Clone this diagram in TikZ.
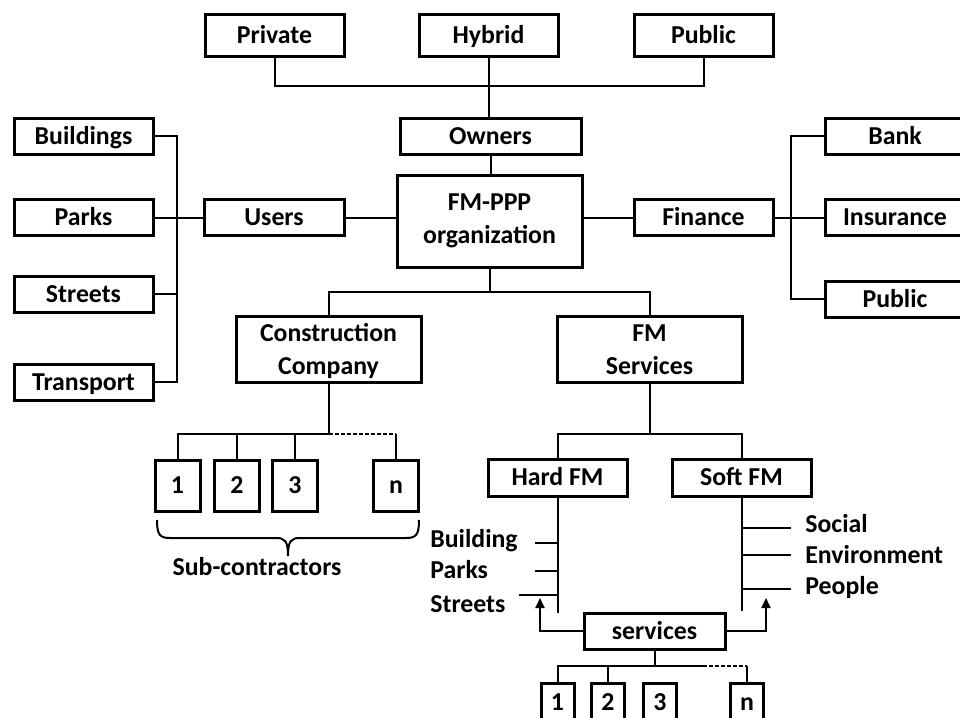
\documentclass[tikz,border=0pt]{standalone}
\usepackage{fontspec}
\setmainfont{Carlito}
\usetikzlibrary{arrows.meta}
\begin{document}
\begin{tikzpicture}[x=0.5pt,y=-0.5pt,
  txt/.style={font=\fontsize{12.9}{16.3}\selectfont\bfseries},
  capcentre/.style={text height=10.3pt, text depth=2pt},
  box/.style={txt, capcentre, draw, line width=1.5pt, inner sep=0pt},
  twoline/.style={txt, draw, line width=1.5pt, inner sep=0pt, align=center},
  lowered/.style={text depth=0pt},
  wh/.style 2 args={minimum width=#1*0.5pt, minimum height=#2*0.5pt},
  lbl/.style={txt, capcentre, inner sep=0pt},
  link/.style={line width=1pt},
  dash link/.style={line width=1pt, dash pattern=on 2pt off 1pt},
  up arrow/.style={line width=1pt, -{Triangle[length=5pt,width=4.5pt]}}
]
\useasboundingbox (0,0) rectangle (960,718);

% ---- owners ----
\node[box, wh={139}{42}] (private) at (274.5,35) {Private};
\node[box, wh={139}{42}] (hybrid)  at (488.5,35) {Hybrid};
\node[box, wh={139}{42}] (pubown)  at (703.5,35) {Public};
\node[box, wh={181}{36}] (owners)  at (490.5,136) {Owners};
\node[twoline, wh={185}{92}] (fmppp) at (489.5,221) {FM-PPP\\organization};

\coordinate (obus) at (489,86);
\draw[link] (private.south) |- (obus) -| (pubown.south);
\draw[link] (hybrid.south) -- (hybrid.south |- owners.north);
\draw[link] (owners.south) -- (owners.south |- fmppp.north);

% ---- users ----
\node[box, wh={139}{36}] (buildings) at (83.5,136) {Buildings};
\node[box, wh={139}{36}] (parks)     at (83.5,217.5) {Parks};
\node[box, wh={139}{36}] (streets)   at (83.5,294) {Streets};
\node[box, wh={139}{36}] (transport) at (83.5,382) {Transport};
\node[box, wh={140}{36}] (users)     at (274,217.5) {Users};

\coordinate (ubus) at (177,217.5);
\draw[link] (buildings.east) -| (ubus) |- (transport.east);
\draw[link] (parks.east) -- (users.west);
\draw[link] (streets.east) -- (streets.east -| ubus);
\draw[link] (users.east) -- (users.east -| fmppp.west);

% ---- finance ----
\node[box, wh={139}{36}] (finance)   at (703.5,217.5) {Finance};
\node[box, wh={140}{36}] (bank)      at (895,136) {Bank};
\node[box, wh={140}{36}] (insurance) at (895,217.5) {Insurance};
\node[box, wh={140}{36}] (pubfin)    at (895,299) {Public};

\coordinate (fbus) at (791,217.5);
\draw[link] (bank.west) -| (fbus) |- (pubfin.west);
\draw[link] (finance.east) -- (insurance.west);
\draw[link] (fmppp.east |- finance.west) -- (finance.west);

% ---- construction and FM services ----
\node[twoline, lowered, wh={185}{66}] (constr) at (328.5,349) {Construction\\Company};
\node[twoline, lowered, wh={185}{66}] (fmserv) at (649.5,349.5) {FM\\Services};

\coordinate (cbus) at (489.5,292);
\draw[link] (fmppp.south) -- (cbus);
\draw[link] (constr.north) |- (cbus) -| (fmserv.north);

% ---- sub-contractors ----
\node[box, wh={45}{51}] (s1) at (177.5,485.5) {1};
\node[box, wh={45}{51}] (s2) at (237,485.5) {2};
\node[box, wh={45}{51}] (s3) at (295,485.5) {3};
\node[box, wh={45}{51}] (sn) at (396,485.5) {n};

\coordinate (sbus) at (328.5,434);
\draw[link] (constr.south) -- (sbus);
\draw[link] (sbus) -| (s1.north);
\draw[link] (s2.north) -- (s2.north |- sbus);
\draw[link] (s3.north) -- (s3.north |- sbus);
\draw[dash link] (sbus) -- (sbus -| sn.north);
\draw[link] (sbus -| sn.north) -- (sn.north);

% brace under the sub-contractor boxes
\draw[link] (157,520) .. controls (157,535) and (160,538) .. (170,538)
  -- (276,538) .. controls (285,538) and (288,541) .. (288,556)
  .. controls (288,541) and (291,538) .. (300,538)
  -- (406,538) .. controls (416,538) and (419,535) .. (419,520);
\node[lbl] (subl) at (257,567.5) {Sub-contractors};

% ---- hard and soft FM ----
\node[box, wh={139}{37}] (hard) at (557.5,477.5) {Hard FM};
\node[box, wh={139}{37}] (soft) at (741.5,477.5) {Soft FM};

\coordinate (fbus2) at (649.5,434);
\draw[link] (fmserv.south) -- (fbus2);
\draw[link] (hard.north) |- (fbus2) -| (soft.north);

\coordinate (hend) at (557.5,613);
\coordinate (send) at (741.5,611);
\draw[link] (hard.south) -- (hend);
\draw[link] (soft.south) -- (send);

\node[lbl, anchor=west] (lbuild)   at (430,539.5) {Building};
\node[lbl, anchor=west] (lparks)   at (430,570.5) {Parks};
\node[lbl, anchor=west] (lstreets) at (430,604) {Streets};
\coordinate (tb) at (535,543);
\coordinate (tp) at (535,571);
\coordinate (ts) at (519,595);
\draw[link] (tb) -- (tb -| hend);
\draw[link] (tp) -- (tp -| hend);
\draw[link] (ts) -- (ts -| hend);

\node[lbl, anchor=west] (lsocial) at (805,524) {Social};
\node[lbl, anchor=west] (lenv)    at (805,555) {Environment};
\node[lbl, anchor=west] (lpeople) at (805,586) {People};
\coordinate (tso) at (791,528);
\coordinate (ten) at (791,555);
\coordinate (tpe) at (791,589);
\draw[link] (tso -| send) -- (tso);
\draw[link] (ten -| send) -- (ten);
\draw[link] (tpe -| send) -- (tpe);

% ---- services ----
\node[box, wh={141}{36}] (serv) at (654.5,631) {services};
\coordinate (latip) at (540,598);
\coordinate (ratip) at (766,598);
\draw[up arrow] (serv.west) -| (latip);
\draw[up arrow] (serv.east) -| (ratip);

\node[box, wh={33}{38}] (b1) at (557.5,702) {1};
\node[box, wh={33}{38}] (b2) at (608,702) {2};
\node[box, wh={33}{38}] (b3) at (660,702) {3};
\node[box, wh={33}{38}] (bn) at (747,702) {n};

\coordinate (bbus) at (654.5,666);
\coordinate (bdash) at (703,666);
\draw[link] (serv.south) -- (bbus);
\draw[link] (bdash) -- (bbus) -| (b1.north);
\draw[link] (b2.north) -- (b2.north |- bbus);
\draw[dash link] (bdash) -- (bdash -| bn.north);
\draw[link] (bdash -| bn.north) -- (bn.north);
\end{tikzpicture}
\end{document}
